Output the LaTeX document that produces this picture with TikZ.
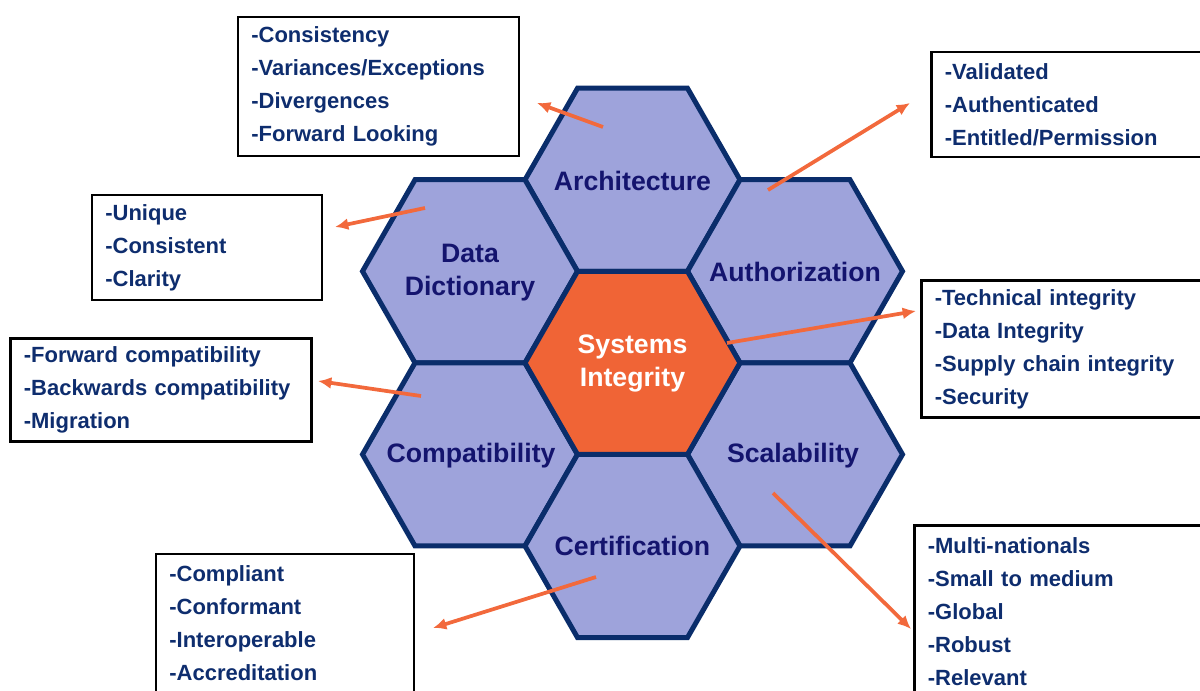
\documentclass[tikz,border=0pt]{standalone}
\usepackage{fontspec}
\setmainfont{Liberation Sans}
\usetikzlibrary{arrows.meta}

\definecolor{hexFill}{RGB}{158,163,219}
\definecolor{hexLine}{RGB}{10,45,107}
\definecolor{coreFill}{RGB}{240,100,54}
\definecolor{labelInk}{RGB}{20,20,110}
\definecolor{listInk}{RGB}{14,45,110}
\definecolor{pointerOrange}{RGB}{242,105,60}

\tikzset{every picture/.style={line width=0.75pt}}
\tikzset{
  hexcell/.style={draw=hexLine, line width=3.75pt, fill=hexFill, line join=miter},
  corecell/.style={hexcell, fill=coreFill},
  hexlabel/.style={text=labelInk, font=\fontsize{20}{24.75}\selectfont\bfseries, align=center, inner sep=0pt},
  listbox/.style={draw=black, line width=1.9pt, text=listInk, font=\fontsize{16.5}{24.75}\selectfont\bfseries, align=left, anchor=north west, inner xsep=10pt, inner ysep=0pt, outer sep=0pt},
  pointer/.style={draw=pointerOrange, line width=2.8pt, -{Latex[length=10pt,width=9pt]}},
}

\begin{document}
\begin{tikzpicture}[x=0.75pt,y=0.75pt,yscale=-1,xscale=1]
	\useasboundingbox (0,0) rectangle (1200,691);

	%Shape: Hexagon (outer ring)
	\foreach \cx/\cy in {632.5/179.8, 470/271.3, 795/271.3, 470/454.4, 795/454.4, 632.5/546}
		\draw [hexcell] (\cx,\cy) +(-55,-91.55) -- +(55,-91.55) -- +(107.5,0) -- +(55,91.55) -- +(-55,91.55) -- +(-107.5,0) -- cycle ;
	%Shape: Hexagon (centre)
	\draw [corecell] (632.5,362.9) +(-55,-91.55) -- +(55,-91.55) -- +(107.5,0) -- +(55,91.55) -- +(-55,91.55) -- +(-107.5,0) -- cycle ;

	% Text Node
	\node [hexlabel] (arch) at (632.5,181) {Architecture};
	% Text Node
	\node [hexlabel] (dict) at (470,273) {Data\\Dictionary};
	% Text Node
	\node [hexlabel] (auth) at (795,272) {Authorization};
	% Text Node
	\node [hexlabel, text=white] (core) at (632.5,364) {Systems\\Integrity};
	% Text Node
	\node [hexlabel] (comp) at (471,456) {Compatibility};
	% Text Node
	\node [hexlabel] (scal) at (793,456) {Scalability};
	% Text Node
	\node [hexlabel] (cert) at (632.5,546) {Certification};

	% Text Node
	\node [listbox, text width=190.75pt, minimum height=104.25pt] (archBox) at (238,17) {-Consistency\\-Variances/Exceptions\\-Divergences\\-Forward Looking};
	% Text Node
	\node [listbox, text width=190pt, minimum height=78.75pt] (authBox) at (931.5,52) {-Validated\\-Authenticated\\-Entitled/Permission};
	% Text Node
	\node [listbox, text width=152.5pt, minimum height=78.75pt] (dictBox) at (92,195) {-Unique\\-Consistent\\-Clarity};
	% Text Node
	\node [listbox, text width=193.75pt, minimum height=102.75pt] (coreBox) at (921.5,280.5) {-Technical integrity\\-Data Integrity\\-Supply chain integrity\\-Security};
	% Text Node
	\node [listbox, text width=205.75pt, minimum height=77.25pt] (compBox) at (10.5,338.5) {-Forward compatibility\\-Backwards compatibility\\-Migration};
	% Text Node
	\node [listbox, text width=197.5pt, minimum height=129pt] (scalBox) at (914.5,525.5) {-Multi-nationals\\-Small to medium\\-Global\\-Robust\\-Relevant};
	% Text Node
	\node [listbox, text width=173.5pt, minimum height=104.25pt] (certBox) at (156,554) {-Compliant\\-Conformant\\-Interoperable\\-Accreditation};

	%Straight Lines
	\coordinate (archFrom) at (603,127);  \coordinate (archTo) at (537,103);
	\coordinate (authFrom) at (768,190);  \coordinate (authTo) at (910,103);
	\coordinate (dictFrom) at (425,208);  \coordinate (dictTo) at (335,227);
	\coordinate (coreFrom) at (727,343);  \coordinate (coreTo) at (916,311);
	\coordinate (compFrom) at (421,396);  \coordinate (compTo) at (318,381);
	\coordinate (scalFrom) at (773,493);  \coordinate (scalTo) at (911,629);
	\coordinate (certFrom) at (596,577);  \coordinate (certTo) at (433,628);
	\foreach \k in {arch,auth,dict,core,comp,scal,cert}
		\draw [pointer] (\k From) -- (\k To) ;

\end{tikzpicture}
\end{document}
